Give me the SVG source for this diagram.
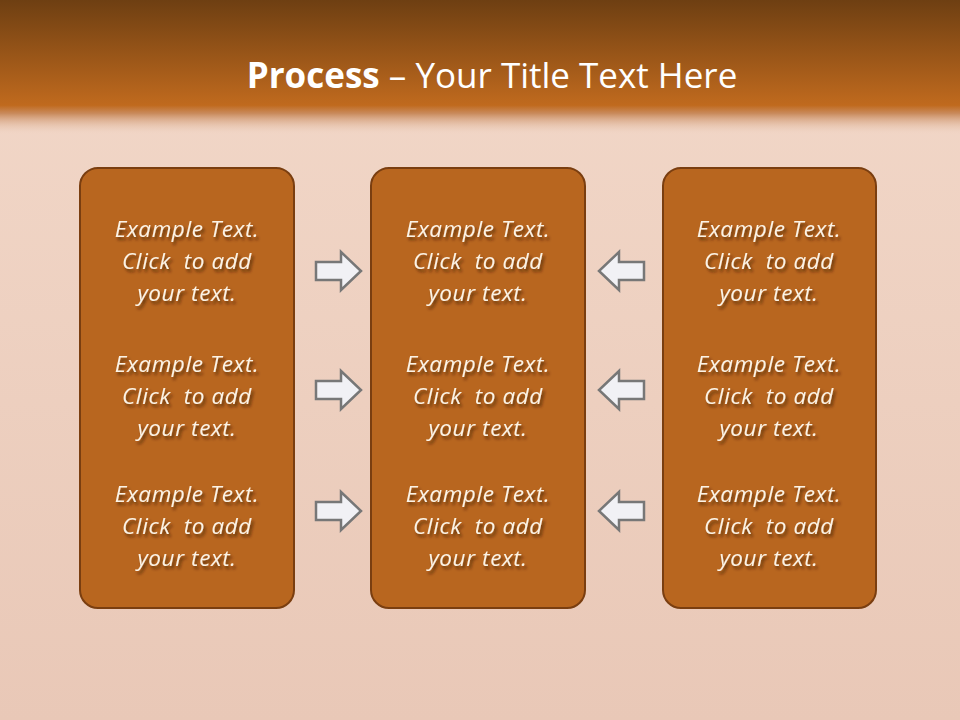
<svg xmlns="http://www.w3.org/2000/svg" width="960" height="720" viewBox="0 0 960 720">
<defs>
<linearGradient id="hdr" x1="0" y1="0" x2="0" y2="1">
<stop offset="0" stop-color="#6e3f12"/>
<stop offset="0.78" stop-color="#c06a1e"/>
<stop offset="0.84" stop-color="#c98a5c"/>
<stop offset="1" stop-color="#efd3c3" stop-opacity="0"/>
</linearGradient>
<linearGradient id="bg" x1="0" y1="0" x2="0" y2="1">
<stop offset="0" stop-color="#f2d8c9"/>
<stop offset="1" stop-color="#e9c8b7"/>
</linearGradient>
<filter id="ts" x="-10%" y="-30%" width="130%" height="170%">
<feGaussianBlur in="SourceAlpha" stdDeviation="1.5"/>
<feOffset dx="2" dy="3" result="o"/>
<feFlood flood-color="#3a1a00" flood-opacity="0.7"/>
<feComposite in2="o" operator="in"/>
<feMerge><feMergeNode/><feMergeNode in="SourceGraphic"/></feMerge>
</filter>
<path id="ra" d="M316,262 H341 V252 L361,271 L341,290 V280 H316 Z"/>
<path id="la" d="M644,262 H619 V252 L599,271 L619,290 V280 H644 Z"/>
</defs>
<style>
.box{fill:#b8661f;stroke:#7a3e10;stroke-width:2}
.t{font-family:"Open Sans","Liberation Sans",sans-serif;font-style:italic;font-size:22.5px;letter-spacing:0.6px;fill:#fbf3e6;text-anchor:middle}
.arr{fill:#f1f1f5;stroke:#777777;stroke-width:2.5;stroke-linejoin:miter}
.title{font-family:"Open Sans","Liberation Sans",sans-serif;font-size:35px;fill:#ffffff;text-anchor:middle}
</style>
<rect width="960" height="720" fill="url(#bg)"/>
<rect width="960" height="135" fill="url(#hdr)"/>
<text class="title" x="492" y="88"><tspan font-weight="bold">Process</tspan> – Your Title Text Here</text>

<g id="box-left">
<rect class="box" x="80" y="168" width="214" height="440" rx="18"/>
<g filter="url(#ts)">
<text class="t" x="187" y="237">Example Text.</text>
<text class="t" x="187" y="269">Click&#160; to add</text>
<text class="t" x="187" y="301">your text.</text>
<text class="t" x="187" y="372">Example Text.</text>
<text class="t" x="187" y="404">Click&#160; to add</text>
<text class="t" x="187" y="436">your text.</text>
<text class="t" x="187" y="502">Example Text.</text>
<text class="t" x="187" y="534">Click&#160; to add</text>
<text class="t" x="187" y="566">your text.</text>
</g>
</g>
<g id="box-middle">
<rect class="box" x="371" y="168" width="214" height="440" rx="18"/>
<g filter="url(#ts)">
<text class="t" x="478" y="237">Example Text.</text>
<text class="t" x="478" y="269">Click&#160; to add</text>
<text class="t" x="478" y="301">your text.</text>
<text class="t" x="478" y="372">Example Text.</text>
<text class="t" x="478" y="404">Click&#160; to add</text>
<text class="t" x="478" y="436">your text.</text>
<text class="t" x="478" y="502">Example Text.</text>
<text class="t" x="478" y="534">Click&#160; to add</text>
<text class="t" x="478" y="566">your text.</text>
</g>
</g>
<g id="box-right">
<rect class="box" x="663" y="168" width="213" height="440" rx="18"/>
<g filter="url(#ts)">
<text class="t" x="769" y="237">Example Text.</text>
<text class="t" x="769" y="269">Click&#160; to add</text>
<text class="t" x="769" y="301">your text.</text>
<text class="t" x="769" y="372">Example Text.</text>
<text class="t" x="769" y="404">Click&#160; to add</text>
<text class="t" x="769" y="436">your text.</text>
<text class="t" x="769" y="502">Example Text.</text>
<text class="t" x="769" y="534">Click&#160; to add</text>
<text class="t" x="769" y="566">your text.</text>
</g>
</g>
<g id="connectors">
<use href="#ra" class="arr"/>
<use href="#ra" class="arr" y="119"/>
<use href="#ra" class="arr" y="240"/>
<use href="#la" class="arr"/>
<use href="#la" class="arr" y="119"/>
<use href="#la" class="arr" y="240"/>
</g>
</svg>
